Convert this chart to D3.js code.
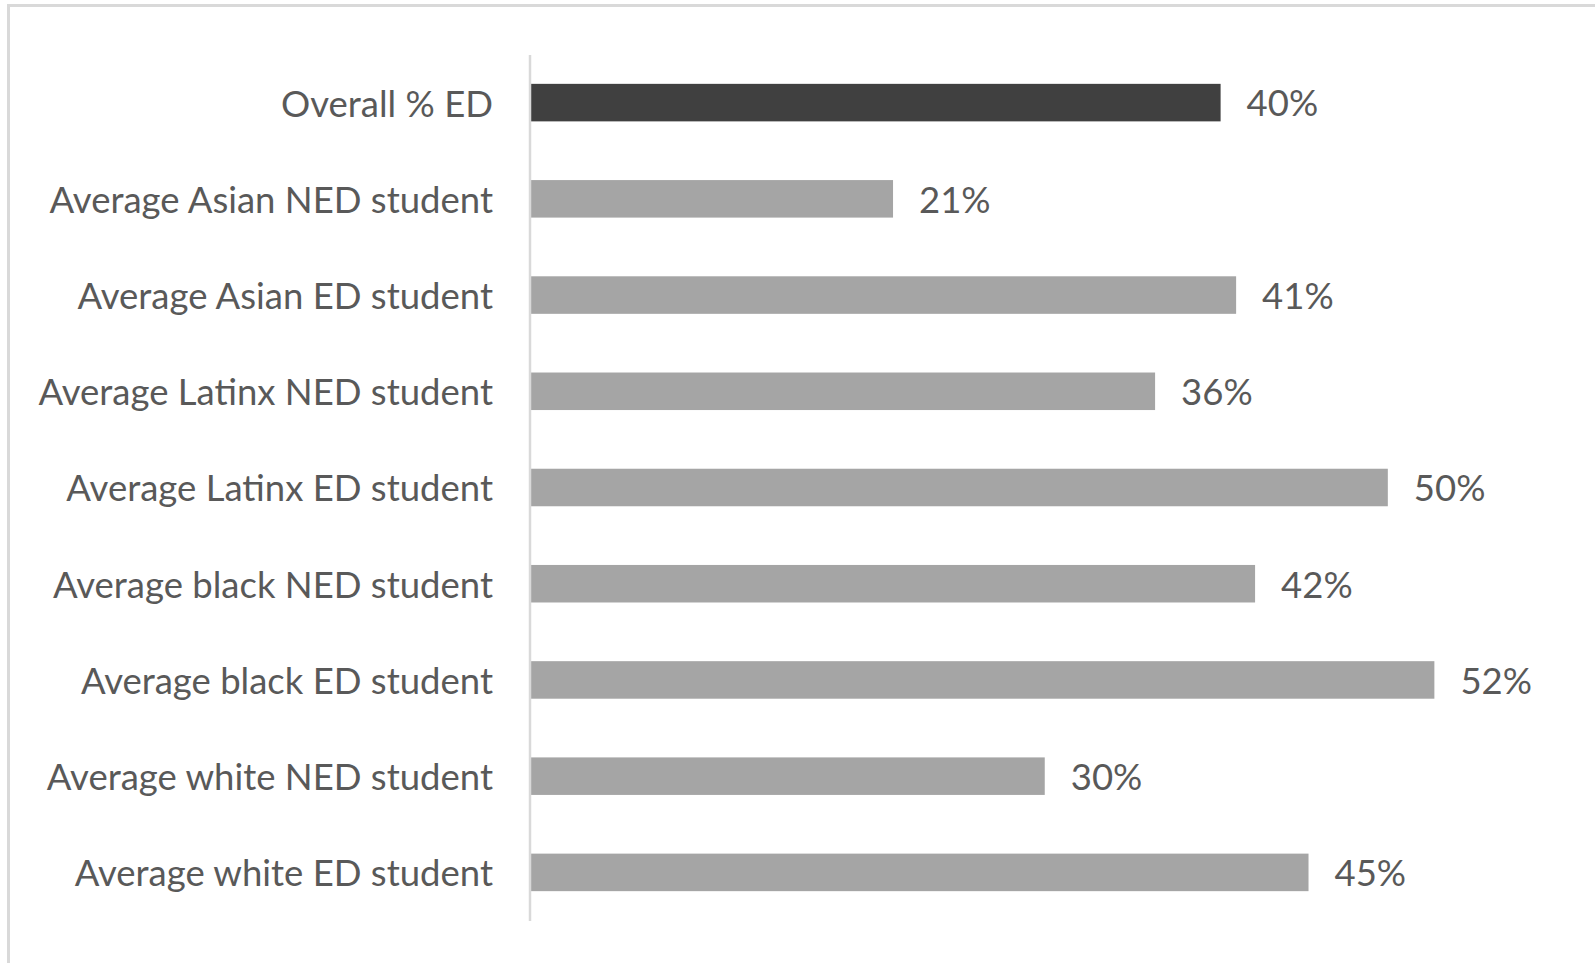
<!DOCTYPE html>
<html>
<head>
<meta charset="utf-8">
<script src="https://cdn.jsdelivr.net/npm/d3@7"></script>
<style>
  html, body { margin: 0; padding: 0; background: #ffffff; }
  svg { display: block; }
</style>
</head>
<body>
<svg id="chart" width="1595" height="963"></svg>
<script>
// ---- data ----
const categories = [
  "Overall % ED",
  "Average Asian NED student",
  "Average Asian ED student",
  "Average Latinx NED student",
  "Average Latinx ED student",
  "Average black NED student",
  "Average black ED student",
  "Average white NED student",
  "Average white ED student"
];
const values = [0.400, 0.210, 0.409, 0.362, 0.497, 0.420, 0.524, 0.298, 0.451];
const highlight = ["Overall % ED"];
const xDomain = [0, 0.6];

// ---- layout ----
const W = 1595, H = 963;
const svg = d3.select("#chart");
const FONT = "Lato, Carlito, Calibri, 'Open Sans', sans-serif";
const textColor = "#595959";

// chart-area border (Excel style)
svg.append("rect")
  .attr("x", 8.5).attr("y", 5.5)
  .attr("width", W + 20).attr("height", H + 20)
  .attr("fill", "#ffffff")
  .attr("stroke", "#d9d9d9")
  .attr("stroke-width", 3);

// fit the font so it has Calibri 40px widths
const probe = svg.append("text").attr("font-family", FONT).attr("font-size", 40)
  .text("Average Asian NED student");
const measured = probe.node().getComputedTextLength();
probe.remove();
const fontSize = 40 * 443.6 / measured;

const x = d3.scaleLinear().domain(xDomain).range([531, 1565.4]);
const y = d3.scaleBand().domain(categories).range([54.5, 920.5])
  .paddingInner(0.61).paddingOuter(0.305);

// bars
svg.append("g").selectAll("rect")
  .data(categories)
  .join("rect")
  .attr("x", x(0))
  .attr("y", d => y(d))
  .attr("width", (d, i) => x(values[i]) - x(0))
  .attr("height", y.bandwidth())
  .attr("fill", d => highlight.includes(d) ? "#404040" : "#a5a5a5");

// category axis
const axisX = 529.5;
const yAxis = d3.axisLeft(y).tickSize(0).tickSizeOuter(0).tickPadding(axisX - 493);
const gy = svg.append("g").attr("transform", `translate(${axisX},0)`).call(yAxis);
gy.select(".domain").attr("stroke", "#d9d9d9").attr("stroke-width", 2.5);
gy.selectAll(".tick text")
  .attr("font-family", FONT)
  .attr("font-size", fontSize)
  .attr("fill", textColor)
  .attr("dy", "0.38em");

// value labels
const fmt = d3.format(".0%");
svg.append("g").selectAll("text")
  .data(categories)
  .join("text")
  .attr("x", (d, i) => x(values[i]) + 26)
  .attr("y", d => y(d) + y.bandwidth() / 2)
  .attr("dy", "0.38em")
  .attr("font-family", FONT)
  .attr("font-size", fontSize)
  .attr("fill", textColor)
  .text((d, i) => fmt(values[i]));
</script>
</body>
</html>
